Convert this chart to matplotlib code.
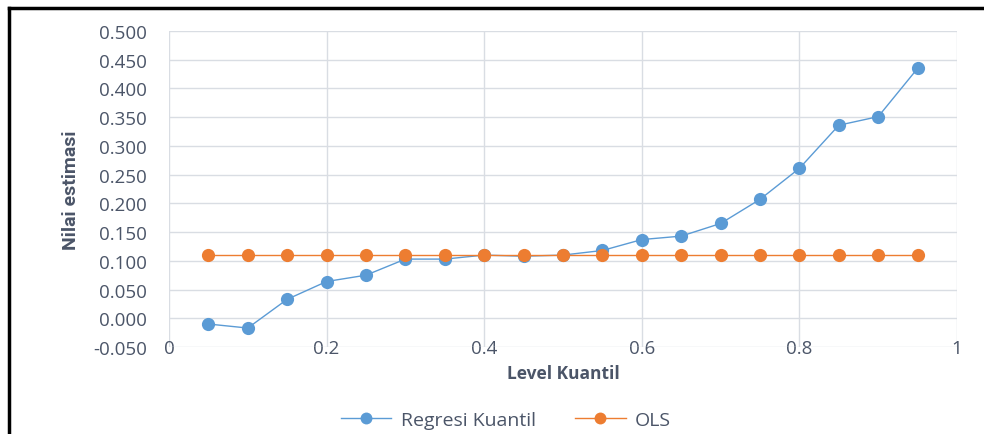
import numpy as np
import matplotlib
matplotlib.use('Agg')
import matplotlib.pyplot as plt
from matplotlib.lines import Line2D

plt.rcParams['font.family'] = ['Open Sans', 'DejaVu Sans']

kuantil = [0.05, 0.10, 0.15, 0.20, 0.25, 0.30, 0.35, 0.40, 0.45, 0.50,
           0.55, 0.60, 0.65, 0.70, 0.75, 0.80, 0.85, 0.90, 0.95]
regresi_kuantil = [-0.010, -0.017, 0.033, 0.064, 0.075, 0.103, 0.103, 0.110, 0.108, 0.110,
                   0.118, 0.137, 0.143, 0.165, 0.207, 0.261, 0.336, 0.351, 0.435]
ols = [0.110] * len(kuantil)

x_ticks = [0, 0.2, 0.4, 0.6, 0.8, 1]
x_ticklabels = ['0', '0.2', '0.4', '0.6', '0.8', '1']
y_ticks = np.arange(-0.05, 0.5001, 0.05)

blue = '#5B9BD5'
orange = '#ED7D31'
txt = '#4B5568'
grid = '#D9DDE3'

fig = plt.figure(figsize=(9.84, 4.35), dpi=100)
ax = fig.add_axes([0.1717, 0.2, 0.8009, 0.7264])

ax.plot(kuantil, regresi_kuantil, color=blue, lw=1.0, marker='o', ms=9.5,
        markeredgewidth=0, label='Regresi Kuantil', zorder=3)
ax.plot(kuantil, ols, color=orange, lw=1.0, marker='o', ms=9.5,
        markeredgewidth=0, label='OLS', zorder=4)

ax.set_xlim(0, 1)
ax.set_ylim(-0.05, 0.5)
ax.set_xticks(x_ticks)
ax.set_xticklabels(x_ticklabels)
ax.set_yticks(y_ticks)
ax.set_yticklabels(['%.3f' % v for v in y_ticks])
ax.grid(True, color=grid, lw=1.0)
ax.set_axisbelow(True)
for s in ax.spines.values():
    s.set_visible(False)
ax.tick_params(length=0, labelsize=13.5, colors=txt)
ax.tick_params(axis='y', pad=16)
ax.tick_params(axis='x', pad=-6)

ax.set_ylabel('Nilai estimasi', fontsize=14, fontweight='bold', color=txt,
              family=['Roboto', 'DejaVu Sans'], labelpad=9)
ax.set_xlabel('Level Kuantil', fontsize=12.5, fontweight='bold', color=txt, labelpad=5)

fig.legend(loc='center', bbox_to_anchor=(506 / 984, 1 - 421 / 435), ncol=2,
           frameon=False, fontsize=14, labelcolor=txt, handlelength=2.6,
           handletextpad=0.5, columnspacing=2.0, markerscale=0.9)

# black frame lines (top and left) seen in the picture
fig.add_artist(Line2D([9 / 984, 1], [1 - 9 / 435, 1 - 9 / 435], color='black', lw=2.5))
fig.add_artist(Line2D([9 / 984, 9 / 984], [0, 1 - 9 / 435], color='black', lw=2.5))

fig.savefig('out.png', dpi=100)
